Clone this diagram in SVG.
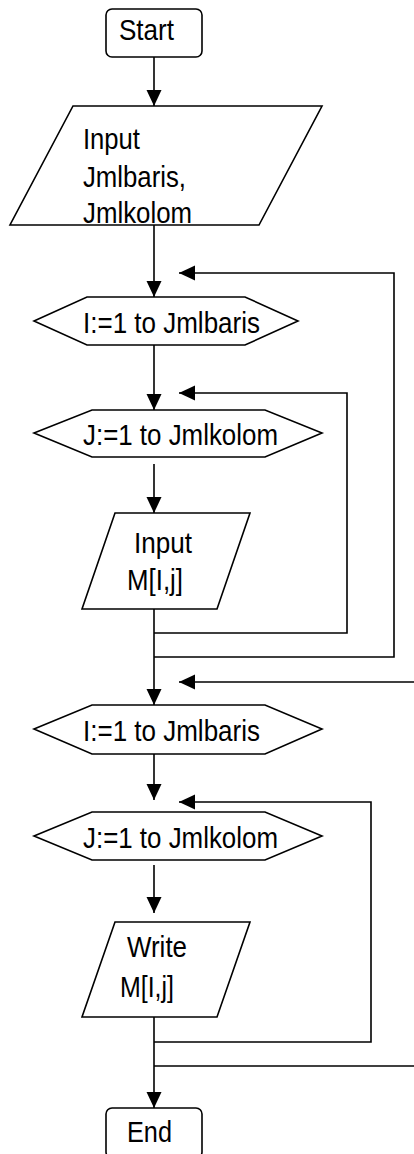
<svg xmlns="http://www.w3.org/2000/svg" width="414" height="1154" viewBox="0 0 414 1154">
<style>
.s{fill:#fff;stroke:#000;stroke-width:1.6}
.c{fill:none;stroke:#000;stroke-width:1.6}
text{font-family:"Liberation Sans",Arial,sans-serif;font-size:30px;fill:#000}
</style>
<defs>
<marker id="ah" markerUnits="userSpaceOnUse" markerWidth="17" markerHeight="16" refX="16" refY="7.5" orient="auto" viewBox="0 0 17 16">
<path d="M0,0 L16,7.5 L0,15 z" fill="#000"/>
</marker>
</defs>
<g id="connectors">
<line class="c" x1="154" y1="57" x2="154" y2="106" marker-end="url(#ah)"/>
<line class="c" x1="154" y1="225" x2="154" y2="297" marker-end="url(#ah)"/>
<polyline class="c" points="154,657 394,657 394,273 179,273" marker-end="url(#ah)"/>
<line class="c" x1="154" y1="345" x2="154" y2="410" marker-end="url(#ah)"/>
<polyline class="c" points="154,633 347,633 347,393 179,393" marker-end="url(#ah)"/>
<line class="c" x1="154" y1="464" x2="154" y2="513" marker-end="url(#ah)"/>
<line class="c" x1="154" y1="609" x2="154" y2="705" marker-end="url(#ah)"/>
<line class="c" x1="414" y1="682" x2="179" y2="682" marker-end="url(#ah)"/>
<line class="c" x1="154" y1="754" x2="154" y2="800" marker-end="url(#ah)"/>
<polyline class="c" points="154,1042 371,1042 371,802 179,802" marker-end="url(#ah)"/>
<line class="c" x1="154" y1="865" x2="154" y2="913" marker-end="url(#ah)"/>
<line class="c" x1="154" y1="1066" x2="414" y2="1066"/>
<line class="c" x1="154" y1="1017" x2="154" y2="1108" marker-end="url(#ah)"/>
</g>
<g id="start">
<rect class="s" x="106" y="9" width="96" height="48" rx="6"/>
<text x="119" y="40" textLength="55" lengthAdjust="spacingAndGlyphs">Start</text>
</g>
<g id="input1">
<polygon class="s" points="73,106 322,106 259,225 10,225"/>
<text x="83" y="149" textLength="57" lengthAdjust="spacingAndGlyphs">Input</text>
<text x="83" y="187" textLength="103" lengthAdjust="spacingAndGlyphs">Jmlbaris,</text>
<text x="83" y="223" textLength="109" lengthAdjust="spacingAndGlyphs">Jmlkolom</text>
</g>
<g id="loopI1">
<polygon class="s" points="34,321 87,297 245,297 298,321 245,345 87,345"/>
<text x="83" y="333" textLength="177" lengthAdjust="spacingAndGlyphs">I:=1 to Jmlbaris</text>
</g>
<g id="loopJ1">
<polygon class="s" points="34,433 92,410 265,410 322,433 265,457 92,457"/>
<text x="83" y="445" textLength="195" lengthAdjust="spacingAndGlyphs">J:=1 to Jmlkolom</text>
</g>
<g id="input2">
<polygon class="s" points="115,513 250,513 217,609 82,609"/>
<text x="134" y="553" textLength="58" lengthAdjust="spacingAndGlyphs">Input</text>
<text x="127" y="590" textLength="56" lengthAdjust="spacingAndGlyphs">M[I,j]</text>
</g>
<g id="loopI2">
<polygon class="s" points="34,729 92,705 265,705 322,729 265,754 92,754"/>
<text x="83" y="741" textLength="177" lengthAdjust="spacingAndGlyphs">I:=1 to Jmlbaris</text>
</g>
<g id="loopJ2">
<polygon class="s" points="34,836 92,812 265,812 322,836 265,860 92,860"/>
<text x="83" y="848" textLength="195" lengthAdjust="spacingAndGlyphs">J:=1 to Jmlkolom</text>
</g>
<g id="write">
<polygon class="s" points="115,922 250,922 217,1017 82,1017"/>
<text x="127" y="957" textLength="60" lengthAdjust="spacingAndGlyphs">Write</text>
<text x="120" y="997" textLength="54" lengthAdjust="spacingAndGlyphs">M[I,j]</text>
</g>
<g id="end">
<rect class="s" x="106" y="1108" width="96" height="50" rx="6"/>
<text x="127" y="1142" textLength="45" lengthAdjust="spacingAndGlyphs">End</text>
</g>
</svg>
